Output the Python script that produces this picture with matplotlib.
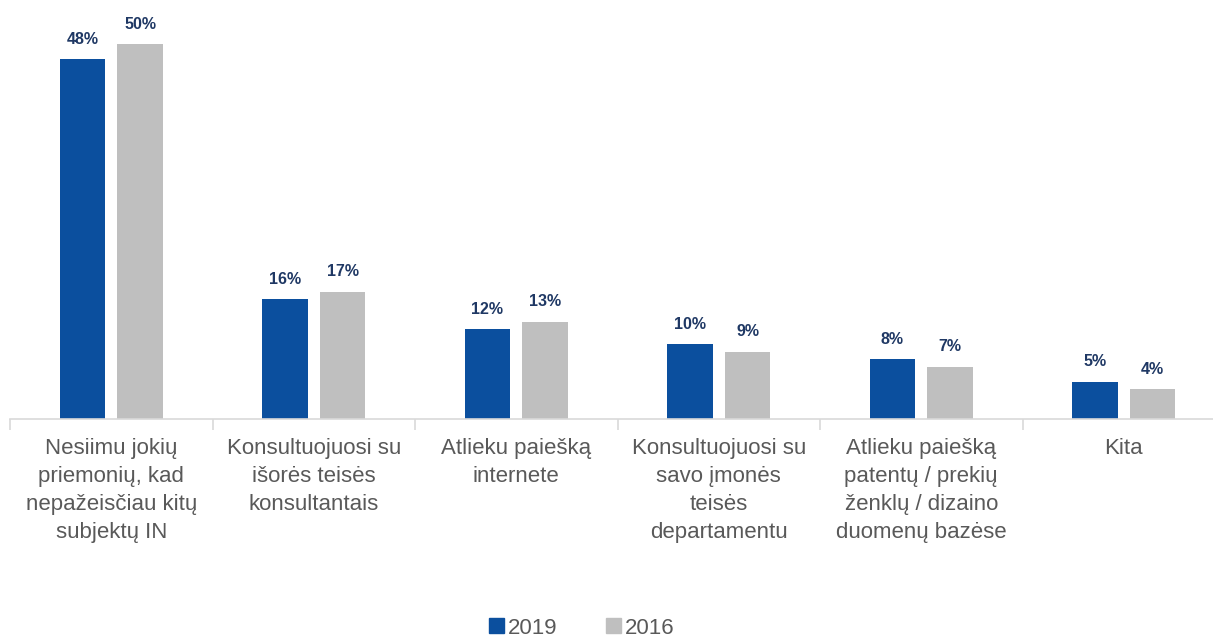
import numpy as np
import matplotlib.pyplot as plt
from matplotlib.patches import Patch

plt.rcParams['font.family'] = ['Liberation Sans', 'DejaVu Sans']

categories = ['Nesiimu jokių\npriemonių, kad\nnepažeisčiau kitų\nsubjektų IN',
              'Konsultuojuosi su\nišorės teisės\nkonsultantais',
              'Atlieku paiešką\ninternete',
              'Konsultuojuosi su\nsavo įmonės\nteisės\ndepartamentu',
              'Atlieku paiešką\npatentų / prekių\nženklų / dizaino\nduomenų bazėse',
              'Kita']
v2019 = [48, 16, 12, 10, 8, 5]
v2016 = [50, 17, 13, 9, 7, 4]
labels2019 = ['48%', '16%', '12%', '10%', '8%', '5%']
labels2016 = ['50%', '17%', '13%', '9%', '7%', '4%']

blue = '#0B4F9E'
gray = '#BFBFBF'

fig = plt.figure(figsize=(12.13, 6.38), dpi=100)
ax = fig.add_axes([10 / 1213, (638 - 419) / 638, 1215 / 1213, 419 / 638])

x = np.arange(len(categories))
w = 0.227
ax.bar(x - 0.142, v2019, w, color=blue)
ax.bar(x + 0.142, v2016, w, color=gray)

for i in range(len(x)):
    ax.text(x[i] - 0.142, v2019[i] + 1.65, labels2019[i], ha='center', va='bottom',
            fontsize=11.5, fontweight='bold', color='#1F3864')
    ax.text(x[i] + 0.142, v2016[i] + 1.65, labels2016[i], ha='center', va='bottom',
            fontsize=11.5, fontweight='bold', color='#1F3864')

ax.set_xlim(-0.5, len(categories) - 0.5)
ax.set_ylim(0, 419 / 7.5)

ax.set_xticks(x)
ax.set_xticklabels(categories, fontsize=16, color='#595959', linespacing=1.42)
ax.tick_params(axis='x', which='major', length=0, pad=14)
ax.set_xticks(np.arange(len(categories) + 1) - 0.5, minor=True)
ax.tick_params(axis='x', which='minor', length=8, color='#D9D9D9', width=1.2)
ax.set_yticks([])

for s in ['top', 'right', 'left']:
    ax.spines[s].set_visible(False)
ax.spines['bottom'].set_color('#D9D9D9')
ax.spines['bottom'].set_linewidth(1.2)

handles = [Patch(color=blue, label='2019'), Patch(color=gray, label='2016')]
fig.legend(handles=handles, loc='center', bbox_to_anchor=(582 / 1213, 1 - 628 / 638),
           ncol=2, frameon=False, fontsize=16, labelcolor='#595959',
           handlelength=0.65, handleheight=0.65, handletextpad=0.2, columnspacing=2.2)

fig.savefig('out.png', dpi=100)
